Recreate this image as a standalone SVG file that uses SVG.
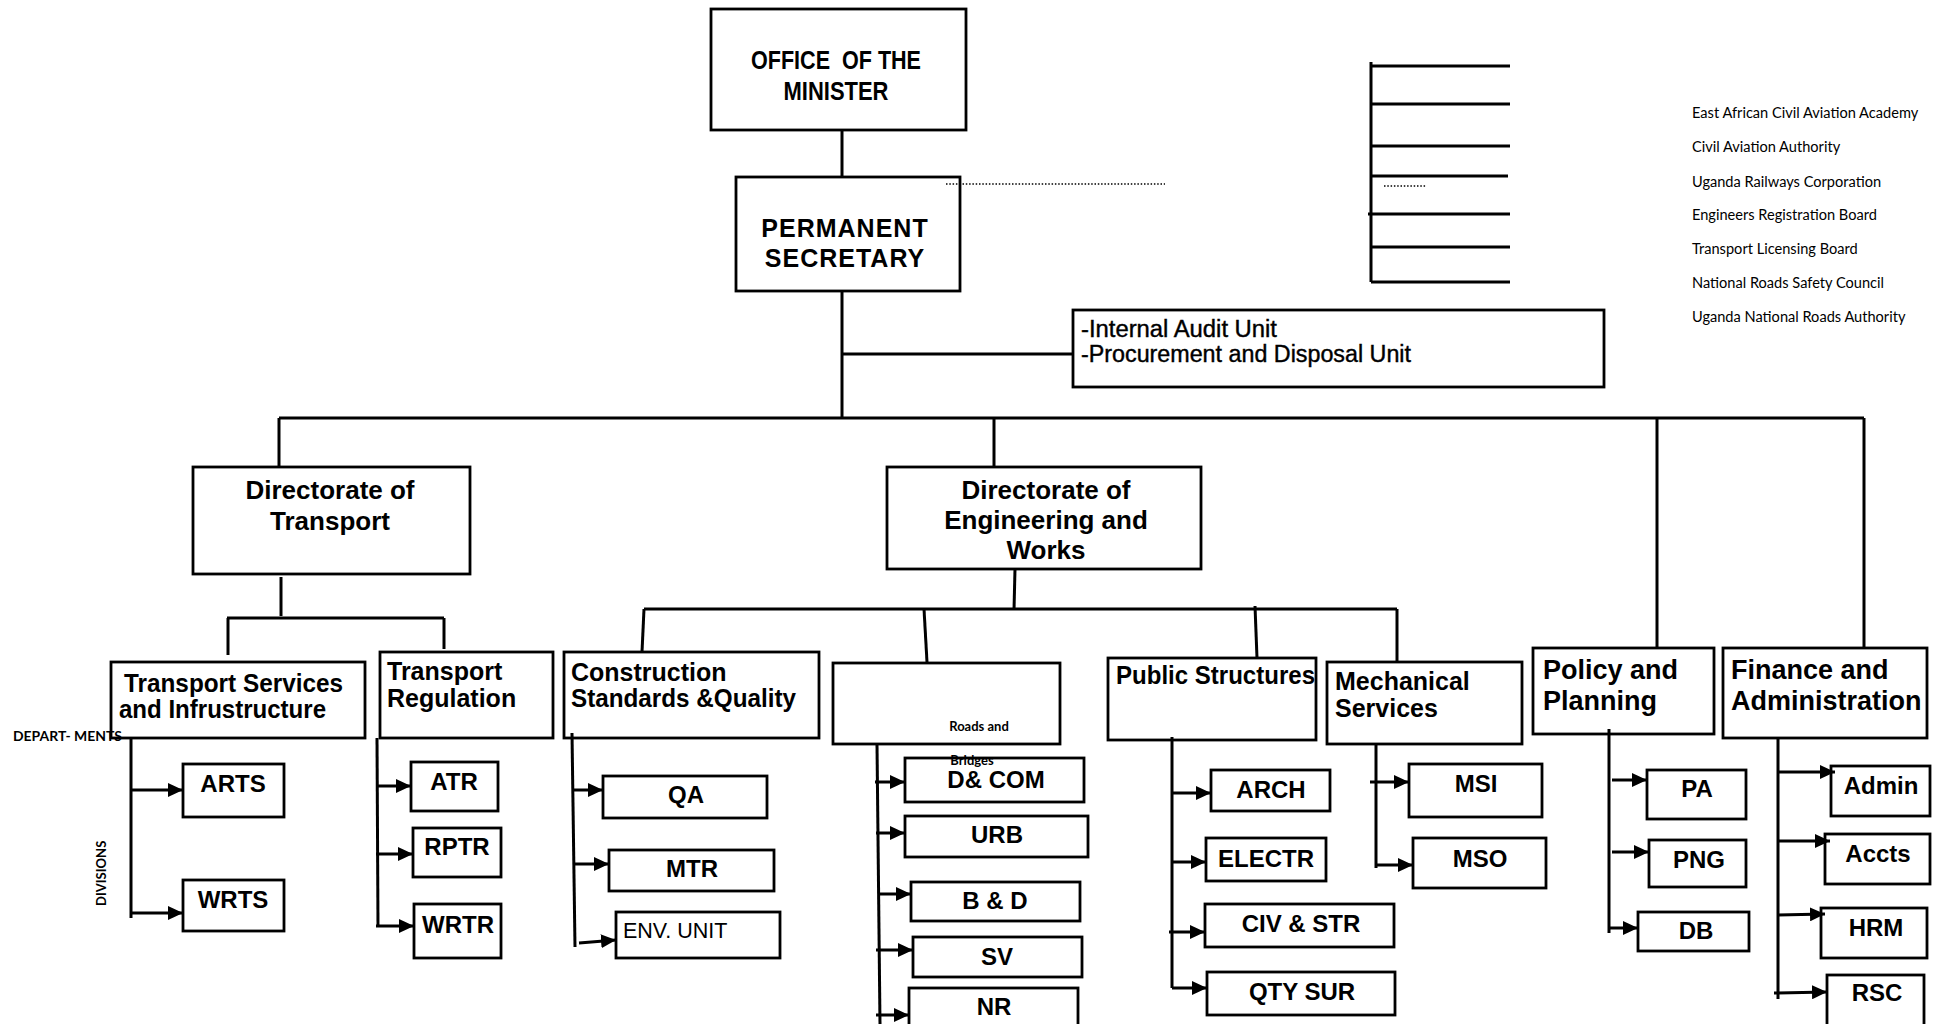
<svg xmlns="http://www.w3.org/2000/svg" width="1939" height="1024" viewBox="0 0 1939 1024">
<style>
.box{fill:#fff;stroke:#000;stroke-width:2.8}
.ln{stroke:#000;stroke-width:3;fill:none}
.ar{stroke:#000;stroke-width:3;fill:none;marker-end:url(#ah)}
.dot{stroke:#000;stroke-width:1.3;stroke-dasharray:1.5 1.8;fill:none}
.t{font-family:"Liberation Sans",Arial,Helvetica,sans-serif;font-weight:bold;fill:#000}
.r{font-family:"Liberation Sans",Arial,Helvetica,sans-serif;font-weight:normal;fill:#000}
.c{text-anchor:middle}
.h{font-size:26px}
.d{font-size:25px}
.l{font-size:24px}
.s{font-family:Lato,"Open Sans",sans-serif;font-size:14.6px;fill:#000}
.sb{font-family:Lato,"Open Sans",sans-serif;font-size:13px;font-weight:bold;fill:#000}
</style>
<defs>
<marker id="ah" markerUnits="userSpaceOnUse" markerWidth="16" markerHeight="14" refX="15" refY="7" orient="auto"><path d="M0,0 L15,7 L0,14 z" fill="#000"/></marker>
</defs>
<rect width="1939" height="1024" fill="#fff"/>

<g id="minister"><rect class="box" x="711" y="9" width="255" height="121"/>
<text class="t c" x="836" y="69" font-size="26" textLength="170" lengthAdjust="spacingAndGlyphs" xml:space="preserve">OFFICE  OF THE</text>
<text class="t c" x="836" y="100" font-size="26" textLength="105" lengthAdjust="spacingAndGlyphs">MINISTER</text></g>

<g id="perm-sec"><rect class="box" x="736" y="177" width="224" height="114"/>
<text class="t c" x="845" y="237" font-size="25" letter-spacing="1">PERMANENT</text>
<text class="t c" x="845" y="267" font-size="25" letter-spacing="1">SECRETARY</text></g>

<g id="audit"><rect class="box" x="1073" y="310" width="531" height="77"/>
<text class="r" x="1081" y="337" font-size="23" stroke="#000" stroke-width="0.4" textLength="196" lengthAdjust="spacingAndGlyphs">-Internal Audit Unit</text>
<text class="r" x="1081" y="362" font-size="23" stroke="#000" stroke-width="0.4" textLength="330" lengthAdjust="spacingAndGlyphs">-Procurement and Disposal Unit</text></g>

<g id="agencies">
<text class="s" x="1692" y="118">East African Civil Aviation Academy</text>
<text class="s" x="1692" y="152">Civil Aviation Authority</text>
<text class="s" x="1692" y="187">Uganda Railways Corporation</text>
<text class="s" x="1692" y="220">Engineers Registration Board</text>
<text class="s" x="1692" y="254">Transport Licensing Board</text>
<text class="s" x="1692" y="288">National Roads Safety Council</text>
<text class="s" x="1692" y="322">Uganda National Roads Authority</text>
</g>

<g id="dir-transport"><rect class="box" x="193" y="467" width="277" height="107"/>
<text class="t c h" x="330" y="499">Directorate of</text>
<text class="t c h" x="330" y="530">Transport</text></g>

<g id="dir-engineering"><rect class="box" x="887" y="467" width="314" height="102"/>
<text class="t c h" x="1046" y="499">Directorate of</text>
<text class="t c h" x="1046" y="529">Engineering and</text>
<text class="t c h" x="1046" y="559">Works</text></g>

<g id="tsi"><rect class="box" x="111" y="662" width="254" height="76"/>
<text class="t d" x="124" y="692" textLength="219" lengthAdjust="spacingAndGlyphs">Transport Services</text>
<text class="t d" x="119" y="718" textLength="207" lengthAdjust="spacingAndGlyphs">and Infrustructure</text></g>

<g id="labels">
<text class="sb" x="13" y="741" font-size="14" textLength="109" lengthAdjust="spacingAndGlyphs">DEPART- MENTS</text>
<text class="sb" transform="translate(106,906) rotate(-90)">DIVISIONS</text>
</g>

<g id="tr"><rect class="box" x="380" y="652" width="173" height="86"/>
<text class="t d" x="387" y="680">Transport</text>
<text class="t d" x="387" y="707">Regulation</text></g>

<g id="csq"><rect class="box" x="564" y="652" width="255" height="86"/>
<text class="t d" x="571" y="681">Construction</text>
<text class="t d" x="571" y="707" textLength="225" lengthAdjust="spacingAndGlyphs">Standards &amp;Quality</text></g>

<g id="public-structures"><rect class="box" x="1108" y="658" width="208" height="82"/>
<text class="t d" x="1116" y="684" textLength="199" lengthAdjust="spacingAndGlyphs">Public Structures</text></g>

<g id="mechanical"><rect class="box" x="1327" y="662" width="195" height="82"/>
<text class="t d" x="1335" y="690">Mechanical</text>
<text class="t d" x="1335" y="717">Services</text></g>

<g id="policy"><rect class="box" x="1533" y="648" width="181" height="86"/>
<text class="t" x="1543" y="679" font-size="27">Policy and</text>
<text class="t" x="1543" y="710" font-size="27">Planning</text></g>

<g id="finance"><rect class="box" x="1723" y="648" width="204" height="90"/>
<text class="t" x="1731" y="679" font-size="27">Finance and</text>
<text class="t" x="1731" y="710" font-size="27">Administration</text></g>

<g id="arts"><rect class="box" x="183" y="764" width="101" height="53"/><text class="t c l" x="233" y="792">ARTS</text></g>
<g id="wrts"><rect class="box" x="183" y="880" width="101" height="51"/><text class="t c l" x="233" y="908">WRTS</text></g>
<g id="atr"><rect class="box" x="411" y="762" width="87" height="49"/><text class="t c l" x="454" y="790">ATR</text></g>
<g id="rptr"><rect class="box" x="413" y="828" width="88" height="49"/><text class="t c l" x="457" y="855">RPTR</text></g>
<g id="wrtr"><rect class="box" x="414" y="904" width="87" height="54"/><text class="t c l" x="458" y="933">WRTR</text></g>

<g id="qa"><rect class="box" x="603" y="776" width="164" height="42"/><text class="t c l" x="686" y="803">QA</text></g>
<g id="mtr"><rect class="box" x="609" y="850" width="165" height="41"/><text class="t c l" x="692" y="877">MTR</text></g>
<g id="env"><rect class="box" x="616" y="912" width="164" height="46"/><text class="r" x="623" y="938" font-size="21.5">ENV. UNIT</text></g>

<g id="dcom"><rect class="box" x="905" y="758" width="179" height="44"/><text class="t c l" x="996" y="788">D&amp; COM</text></g>
<g id="urb"><rect class="box" x="905" y="816" width="183" height="41"/><text class="t c l" x="997" y="843">URB</text></g>
<g id="bd"><rect class="box" x="911" y="882" width="169" height="39"/><text class="t c l" x="995" y="909">B &amp; D</text></g>
<g id="sv"><rect class="box" x="913" y="937" width="169" height="40"/><text class="t c l" x="997" y="965">SV</text></g>
<g id="nr"><rect class="box" x="909" y="988" width="169" height="52"/><text class="t c l" x="994" y="1015">NR</text></g>

<g id="roads-bridges"><rect class="box" x="833" y="663" width="227" height="81"/>
<text class="sb c" x="979" y="731">Roads and</text>
<text class="sb c" x="972" y="765">Bridges</text></g>

<g id="arch"><rect class="box" x="1211" y="770" width="119" height="41"/><text class="t c l" x="1271" y="798">ARCH</text></g>
<g id="electr"><rect class="box" x="1206" y="838" width="120" height="43"/><text class="t c l" x="1266" y="867">ELECTR</text></g>
<g id="civ"><rect class="box" x="1205" y="904" width="189" height="43"/><text class="t c l" x="1301" y="932">CIV &amp; STR</text></g>
<g id="qty"><rect class="box" x="1207" y="972" width="188" height="43"/><text class="t c l" x="1302" y="1000">QTY SUR</text></g>

<g id="msi"><rect class="box" x="1409" y="764" width="133" height="53"/><text class="t c l" x="1476" y="792">MSI</text></g>
<g id="mso"><rect class="box" x="1413" y="838" width="133" height="50"/><text class="t c l" x="1480" y="867">MSO</text></g>

<g id="pa"><rect class="box" x="1647" y="770" width="99" height="49"/><text class="t c l" x="1697" y="797">PA</text></g>
<g id="png"><rect class="box" x="1649" y="840" width="97" height="47"/><text class="t c l" x="1699" y="868">PNG</text></g>
<g id="db"><rect class="box" x="1638" y="912" width="111" height="39"/><text class="t c l" x="1696" y="939">DB</text></g>

<g id="admin"><rect class="box" x="1831" y="766" width="99" height="50"/><text class="t c l" x="1881" y="794">Admin</text></g>
<g id="accts"><rect class="box" x="1825" y="834" width="105" height="50"/><text class="t c l" x="1878" y="862">Accts</text></g>
<g id="hrm"><rect class="box" x="1821" y="908" width="106" height="50"/><text class="t c l" x="1876" y="936">HRM</text></g>
<g id="rsc"><rect class="box" x="1827" y="975" width="97" height="65"/><text class="t c l" x="1877" y="1001">RSC</text></g>

<g id="connectors">
<line class="ln" x1="842" y1="130" x2="842" y2="177"/>
<line class="ln" x1="842" y1="291" x2="842" y2="418"/>
<line class="ln" x1="842" y1="354" x2="1073" y2="354"/>
<line class="ln" x1="279" y1="418" x2="1864" y2="418"/>
<line class="ln" x1="279" y1="418" x2="279" y2="467"/>
<line class="ln" x1="994" y1="418" x2="994" y2="467"/>
<line class="ln" x1="1657" y1="418" x2="1657" y2="648"/>
<line class="ln" x1="1864" y1="418" x2="1864" y2="648"/>
<line class="dot" x1="946" y1="184" x2="1165" y2="184"/>
<line class="ln" x1="1371" y1="62" x2="1371" y2="282"/>
<line class="ln" x1="1371" y1="66" x2="1510" y2="66"/>
<line class="ln" x1="1371" y1="104" x2="1510" y2="104"/>
<line class="ln" x1="1371" y1="146" x2="1510" y2="146"/>
<line class="ln" x1="1371" y1="176" x2="1508" y2="176"/>
<line class="ln" x1="1368" y1="214" x2="1510" y2="214"/>
<line class="ln" x1="1371" y1="247" x2="1510" y2="247" stroke-width="4"/>
<line class="ln" x1="1371" y1="282" x2="1510" y2="282"/>
<line class="dot" x1="1384" y1="186" x2="1426" y2="186"/>
<line class="ln" x1="281" y1="577" x2="281" y2="616"/>
<line class="ln" x1="227" y1="618" x2="444" y2="618"/>
<line class="ln" x1="228" y1="618" x2="228" y2="655"/>
<line class="ln" x1="444" y1="618" x2="444" y2="649"/>
<line class="ln" x1="131" y1="738" x2="131" y2="918"/>
<line class="ar" x1="131" y1="790" x2="183" y2="790"/>
<line class="ar" x1="131" y1="913" x2="183" y2="913"/>
<line class="ln" x1="377" y1="738" x2="378" y2="927"/>
<line class="ar" x1="376" y1="786" x2="411" y2="786"/>
<line class="ar" x1="376" y1="854" x2="413" y2="854"/>
<line class="ar" x1="376" y1="926" x2="414" y2="926"/>
<line class="ln" x1="1015" y1="569" x2="1014" y2="610"/>
<line class="ln" x1="644" y1="609" x2="1397" y2="609" stroke-width="4"/>
<line class="ln" x1="644" y1="609" x2="642" y2="652"/>
<line class="ln" x1="924" y1="609" x2="927" y2="662"/>
<line class="ln" x1="1255" y1="606" x2="1257" y2="658"/>
<line class="ln" x1="1397" y1="609" x2="1397" y2="662"/>
<line class="ln" x1="572" y1="733" x2="575" y2="947"/>
<line class="ar" x1="572" y1="790" x2="603" y2="790"/>
<line class="ar" x1="573" y1="864" x2="609" y2="864"/>
<line class="ar" x1="579" y1="943" x2="616" y2="940"/>
<line class="ln" x1="877" y1="744" x2="880" y2="1024"/>
<line class="ar" x1="875" y1="782" x2="905" y2="782"/>
<line class="ar" x1="876" y1="833" x2="905" y2="833"/>
<line class="ar" x1="878" y1="894" x2="911" y2="894"/>
<line class="ar" x1="876" y1="950" x2="913" y2="950"/>
<line class="ar" x1="876" y1="1015" x2="909" y2="1015"/>
<line class="ln" x1="1172" y1="737" x2="1172" y2="988"/>
<line class="ar" x1="1172" y1="793" x2="1211" y2="793"/>
<line class="ar" x1="1172" y1="862" x2="1206" y2="862"/>
<line class="ar" x1="1169" y1="932" x2="1205" y2="932"/>
<line class="ar" x1="1172" y1="988" x2="1207" y2="988"/>
<line class="ln" x1="1376" y1="744" x2="1376" y2="868"/>
<line class="ar" x1="1370" y1="782" x2="1409" y2="782"/>
<line class="ar" x1="1376" y1="865" x2="1413" y2="865"/>
<line class="ln" x1="1609" y1="729" x2="1609" y2="933"/>
<line class="ar" x1="1612" y1="780" x2="1647" y2="780"/>
<line class="ar" x1="1612" y1="852" x2="1649" y2="852"/>
<line class="ar" x1="1609" y1="928" x2="1638" y2="928"/>
<line class="ln" x1="1778" y1="738" x2="1778" y2="999"/>
<line class="ar" x1="1778" y1="772" x2="1835" y2="772"/>
<line class="ar" x1="1778" y1="841" x2="1830" y2="841"/>
<line class="ar" x1="1778" y1="915" x2="1825" y2="914"/>
<line class="ar" x1="1774" y1="993" x2="1827" y2="992"/>
</g>
</svg>
